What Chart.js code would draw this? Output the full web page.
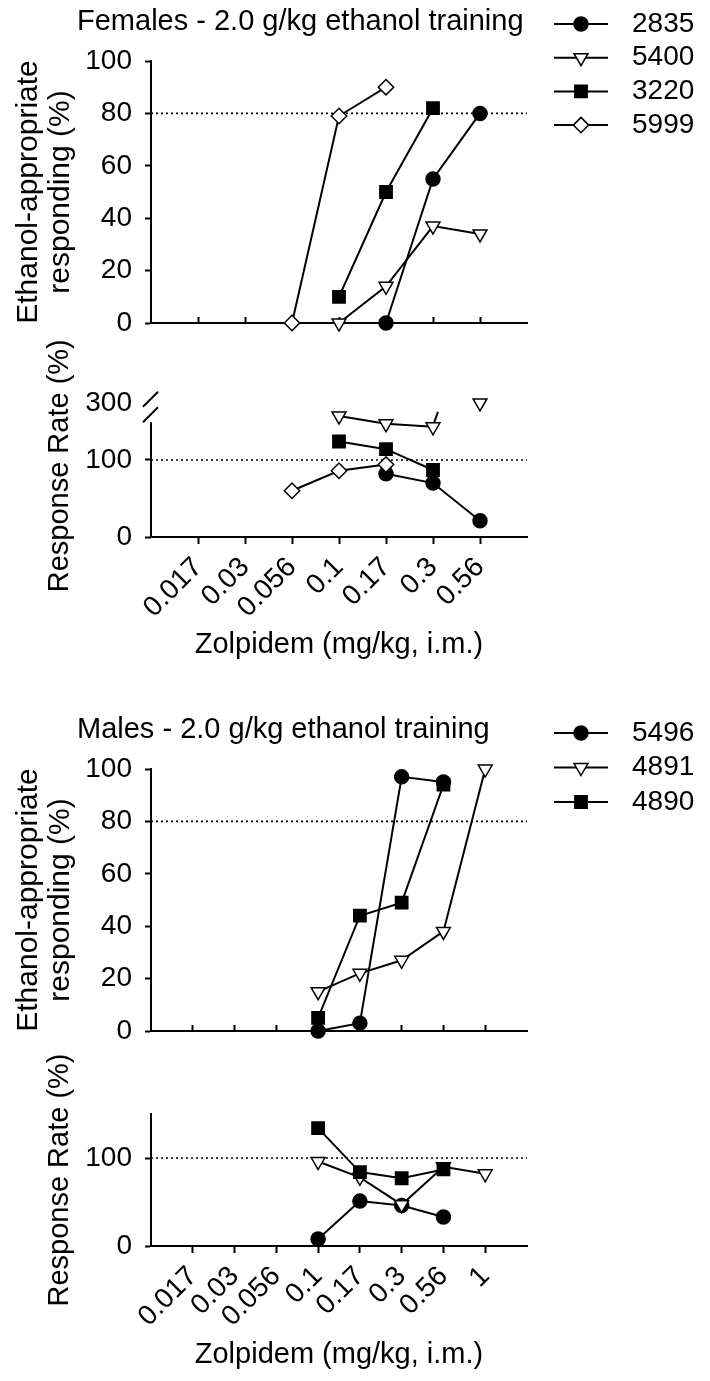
<!DOCTYPE html>
<html>
<head>
<meta charset="utf-8">
<script src="https://cdn.jsdelivr.net/npm/chart.js@4.4.1/dist/chart.umd.min.js"></script>
<style>
  html, body { margin: 0; padding: 0; background: #fff; }
  body { width: 710px; height: 1381px; position: relative; overflow: hidden; }
  canvas { position: absolute; left: 0; }
</style>
</head>
<body>
<canvas id="fEar" width="710" height="360" style="top:0px"></canvas>
<canvas id="fRate" width="710" height="350" style="top:330px"></canvas>
<canvas id="mEar" width="710" height="390" style="top:680px"></canvas>
<canvas id="mRate" width="710" height="341" style="top:1040px"></canvas>
<script>
// doses on the x axis (mg/kg)
const femaleDoses = ['0.017', '0.03', '0.056', '0.1', '0.17', '0.3', '0.56'];
const maleDoses = ['0.017', '0.03', '0.056', '0.1', '0.17', '0.3', '0.56', '1'];

// ethanol-appropriate responding (%), one value per dose, null = not tested
const f2835Ear = [null, null, null, null, 0, 55, 80];
const f5400Ear = [null, null, null, 0, 14, 37, 34];
const f3220Ear = [null, null, null, 10, 50, 82, null];
const f5999Ear = [null, null, 0, 79, 90, null, null];

// response rate (% of control)
const f2835Rate = [null, null, null, null, 82, 70, 21];
const f5400Rate = [null, null, null, 157, 147, 143, 300];
const f3220Rate = [null, null, null, 124, 114, 87, null];
const f5999Rate = [null, null, 60, 86, 94, null, null];

const m5496Ear = [null, null, null, 0, 3, 97, 95, null];
const m4891Ear = [null, null, null, 15, 22, 27, 38, 100];
const m4890Ear = [null, null, null, 5, 44, 49, 94, null];

const m5496Rate = [null, null, null, 8, 51, 46, 33, null];
const m4891Rate = [null, null, null, 96, 78, 47, 90, 82];
const m4890Rate = [null, null, null, 134, 84, 77, 87, null];

const earTicks = [0, 20, 40, 60, 80, 100];
const rateTicks = [0, 100];
const rateBreakTick = 300;
const earCriterion = 80;
const rateControl = 100;

Chart.defaults.font.family = '"Liberation Sans", Arial, sans-serif';
Chart.defaults.color = '#000';

// the female rate axis is broken: values above it sit in a short band at the top
function rateAxis(v) {
  return v > 200 ? 174 + (v - 300) * 0.1 : v;
}

const markers = {
  circle: { pointStyle: 'circle', pointRadius: 7, pointRotation: 0, pointBackgroundColor: '#000' },
  triangle: { pointStyle: 'triangle', pointRadius: 8, pointRotation: 180, pointBackgroundColor: '#fff' },
  square: { pointStyle: 'rect', pointRadius: 8.7, pointRotation: 0, pointBackgroundColor: '#000' },
  diamond: { pointStyle: 'rectRot', pointRadius: 7.7, pointRotation: 0, pointBackgroundColor: '#fff' }
};

function points(values, map) {
  return values.map((v, i) => v === null ? null : { x: i + 1, y: map ? map(v) : v }).filter(p => p);
}

function animal(label, values, shape, order, map) {
  return Object.assign({
    label: label,
    data: points(values, map),
    borderColor: '#000',
    borderWidth: 2,
    pointBorderColor: '#000',
    pointBorderWidth: 1.5,
    clip: false,
    order: order
  }, markers[shape]);
}

function refLine(value, xMax) {
  return {
    label: '_ref',
    data: [{ x: 0, y: value }, { x: xMax, y: value }],
    borderColor: '#000',
    borderWidth: 1.6,
    borderDash: [2, 3],
    pointRadius: 0,
    order: 10
  };
}

function xScale(doses, showLabels, tickLen, height, titlePad) {
  return {
    type: 'linear',
    min: 0,
    max: doses.length + 1,
    afterBuildTicks: s => { s.ticks = doses.map((d, i) => ({ value: i + 1 })); },
    afterFit: s => { s.height = height; },
    grid: { drawOnChartArea: false, drawTicks: true, tickLength: tickLen, tickWidth: 2, tickColor: '#000' },
    border: { color: '#000', width: 2 },
    ticks: {
      display: showLabels, autoSkip: false, minRotation: 45, maxRotation: 45, padding: 7,
      font: { size: 28 }, callback: v => doses[v - 1]
    },
    title: {
      display: showLabels, text: 'Zolpidem (mg/kg, i.m.)',
      font: { size: 29, lineHeight: 1.2 }, padding: { top: 0, bottom: titlePad }
    }
  };
}

function yScale(max, tickVals, title, titleSize, titlePad, extra) {
  return Object.assign({
    min: 0,
    max: max,
    afterBuildTicks: s => { s.ticks = tickVals.map(v => ({ value: v })); },
    afterFit: s => { s.width = 151; },
    grid: { drawOnChartArea: false, tickLength: 6, tickWidth: 2, tickColor: '#000' },
    border: { color: '#000', width: 2 },
    ticks: { padding: 13, font: { size: 28 } },
    title: { display: true, text: title, font: { size: titleSize, lineHeight: 1.04 }, padding: { top: titlePad, bottom: 0 } }
  }, extra || {});
}

// panel heading and the line+marker legend
const panelText = {
  id: 'panelText',
  afterDraw(chart, args, o) {
    if (!o.title) return;
    const ctx = chart.ctx;
    ctx.save();
    ctx.textBaseline = 'middle';
    ctx.textAlign = 'left';
    ctx.fillStyle = '#000';
    ctx.font = o.titleFont;
    ctx.fillText(o.title, o.titleX, o.titleY);
    ctx.font = o.legendFont;
    chart.data.datasets.filter(d => !d.label.startsWith('_')).forEach((d, i) => {
      const y = o.legendY + i * o.legendStep;
      ctx.strokeStyle = '#000';
      ctx.lineWidth = 2;
      ctx.beginPath();
      ctx.moveTo(o.lineX1, y);
      ctx.lineTo(o.lineX2, y);
      ctx.stroke();
      ctx.fillStyle = d.pointBackgroundColor;
      ctx.lineWidth = d.pointBorderWidth;
      Chart.helpers.drawPoint(ctx, {
        pointStyle: d.pointStyle, radius: d.pointRadius,
        rotation: d.pointRotation, borderWidth: d.pointBorderWidth
      }, (o.lineX1 + o.lineX2) / 2, y);
      ctx.fillStyle = '#000';
      ctx.fillText(d.label, o.textX, y);
    });
    ctx.restore();
  }
};

// broken y axis of the female rate panel
const axisBreak = {
  id: 'axisBreak',
  afterDraw(chart, args, o) {
    if (!o.on) return;
    const ctx = chart.ctx;
    const y = chart.scales.y;
    const x0 = chart.chartArea.left;
    ctx.save();
    ctx.strokeStyle = '#000';
    ctx.lineWidth = 2;
    ctx.beginPath();
    ctx.moveTo(x0, y.getPixelForValue(0) + 1);
    ctx.lineTo(x0, y.getPixelForValue(o.axisTop));
    [o.axisTop, o.upperSlash].forEach(v => {
      const py = y.getPixelForValue(v);
      ctx.moveTo(x0 - 8, py);
      ctx.lineTo(x0 + 7, py - 15);
    });
    const pt = chart.getDatasetMeta(o.dataset).data[o.index];
    ctx.moveTo(pt.x + 1, pt.y - 4);
    ctx.lineTo(pt.x + 5, pt.y - 15);
    ctx.stroke();
    ctx.restore();
  }
};

function makeChart(id, datasets, scales, padding, textOpts, breakOpts) {
  return new Chart(document.getElementById(id), {
    type: 'line',
    data: { datasets: datasets },
    options: {
      responsive: false,
      animation: false,
      layout: { padding: padding },
      elements: { line: { tension: 0 } },
      plugins: {
        legend: { display: false },
        tooltip: { enabled: false },
        panelText: textOpts || {},
        axisBreak: breakOpts || {}
      },
      scales: scales
    },
    plugins: [panelText, axisBreak]
  });
}

const titleFont = '29px "Liberation Sans", Arial, sans-serif';
const legendFont = '28px "Liberation Sans", Arial, sans-serif';

// Females, ethanol-appropriate responding
makeChart('fEar', [
  animal('2835', f2835Ear, 'circle', 4),
  animal('5400', f5400Ear, 'triangle', 3),
  animal('3220', f3220Ear, 'square', 2),
  animal('5999', f5999Ear, 'diamond', 1),
  refLine(earCriterion, femaleDoses.length + 1)
], {
  x: xScale(femaleDoses, false, -6, 10, 0),
  y: yScale(100, earTicks, ['Ethanol-appropriate', 'responding (%)'], 30, 13.5)
}, { top: 61, right: 183, bottom: 27, left: 0 }, {
  title: 'Females - 2.0 g/kg ethanol training', titleX: 77, titleY: 22,
  titleFont: titleFont, legendFont: legendFont,
  legendY: 24, legendStep: 33.7, lineX1: 554, lineX2: 608, textX: 632
});

// Females, response rate
const f5400RateSet = animal('5400', f5400Rate, 'triangle', 3, rateAxis);
f5400RateSet.segment = { borderColor: c => c.p1.parsed.y > 170 ? 'rgba(0,0,0,0)' : undefined };
makeChart('fRate', [
  animal('2835', f2835Rate, 'circle', 4),
  f5400RateSet,
  animal('3220', f3220Rate, 'square', 2),
  animal('5999', f5999Rate, 'diamond', 1),
  refLine(rateControl, femaleDoses.length + 1)
], {
  x: xScale(femaleDoses, true, 7, 143, 17.6),
  y: yScale(185, rateTicks.concat([rateAxis(rateBreakTick)]), 'Response Rate (%)', 29, 45, {
    border: { display: false },
    grid: {
      drawOnChartArea: false, tickLength: 6, tickWidth: 2,
      tickColor: c => c.tick && c.tick.value > 150 ? 'rgba(0,0,0,0)' : '#000'
    },
    ticks: {
      padding: 13, font: { size: 28 },
      callback: v => v === rateAxis(rateBreakTick) ? String(rateBreakTick) : v
    }
  })
}, { top: 64.5, right: 183, bottom: 0, left: 0 }, null,
  { on: true, axisTop: 149, upperSlash: 169, dataset: 1, index: 2 });

// Males, ethanol-appropriate responding
makeChart('mEar', [
  animal('5496', m5496Ear, 'circle', 3),
  animal('4891', m4891Ear, 'triangle', 2),
  animal('4890', m4890Ear, 'square', 1),
  refLine(earCriterion, maleDoses.length + 1)
], {
  x: xScale(maleDoses, false, -6, 10, 0),
  y: yScale(100, earTicks, ['Ethanol-appropriate', 'responding (%)'], 30, 13.5)
}, { top: 89, right: 183, bottom: 29, left: 0 }, {
  title: 'Males - 2.0 g/kg ethanol training', titleX: 77, titleY: 50,
  titleFont: titleFont, legendFont: legendFont,
  legendY: 53, legendStep: 34.5, lineX1: 554, lineX2: 608, textX: 632
});

// Males, response rate
makeChart('mRate', [
  animal('5496', m5496Rate, 'circle', 3),
  animal('4891', m4891Rate, 'triangle', 2),
  animal('4890', m4890Rate, 'square', 1),
  refLine(rateControl, maleDoses.length + 1)
], {
  x: xScale(maleDoses, true, 7, 135, 8.6),
  y: yScale(150, rateTicks, 'Response Rate (%)', 29, 45)
}, { top: 74, right: 183, bottom: 0, left: 0 });
</script>
</body>
</html>
